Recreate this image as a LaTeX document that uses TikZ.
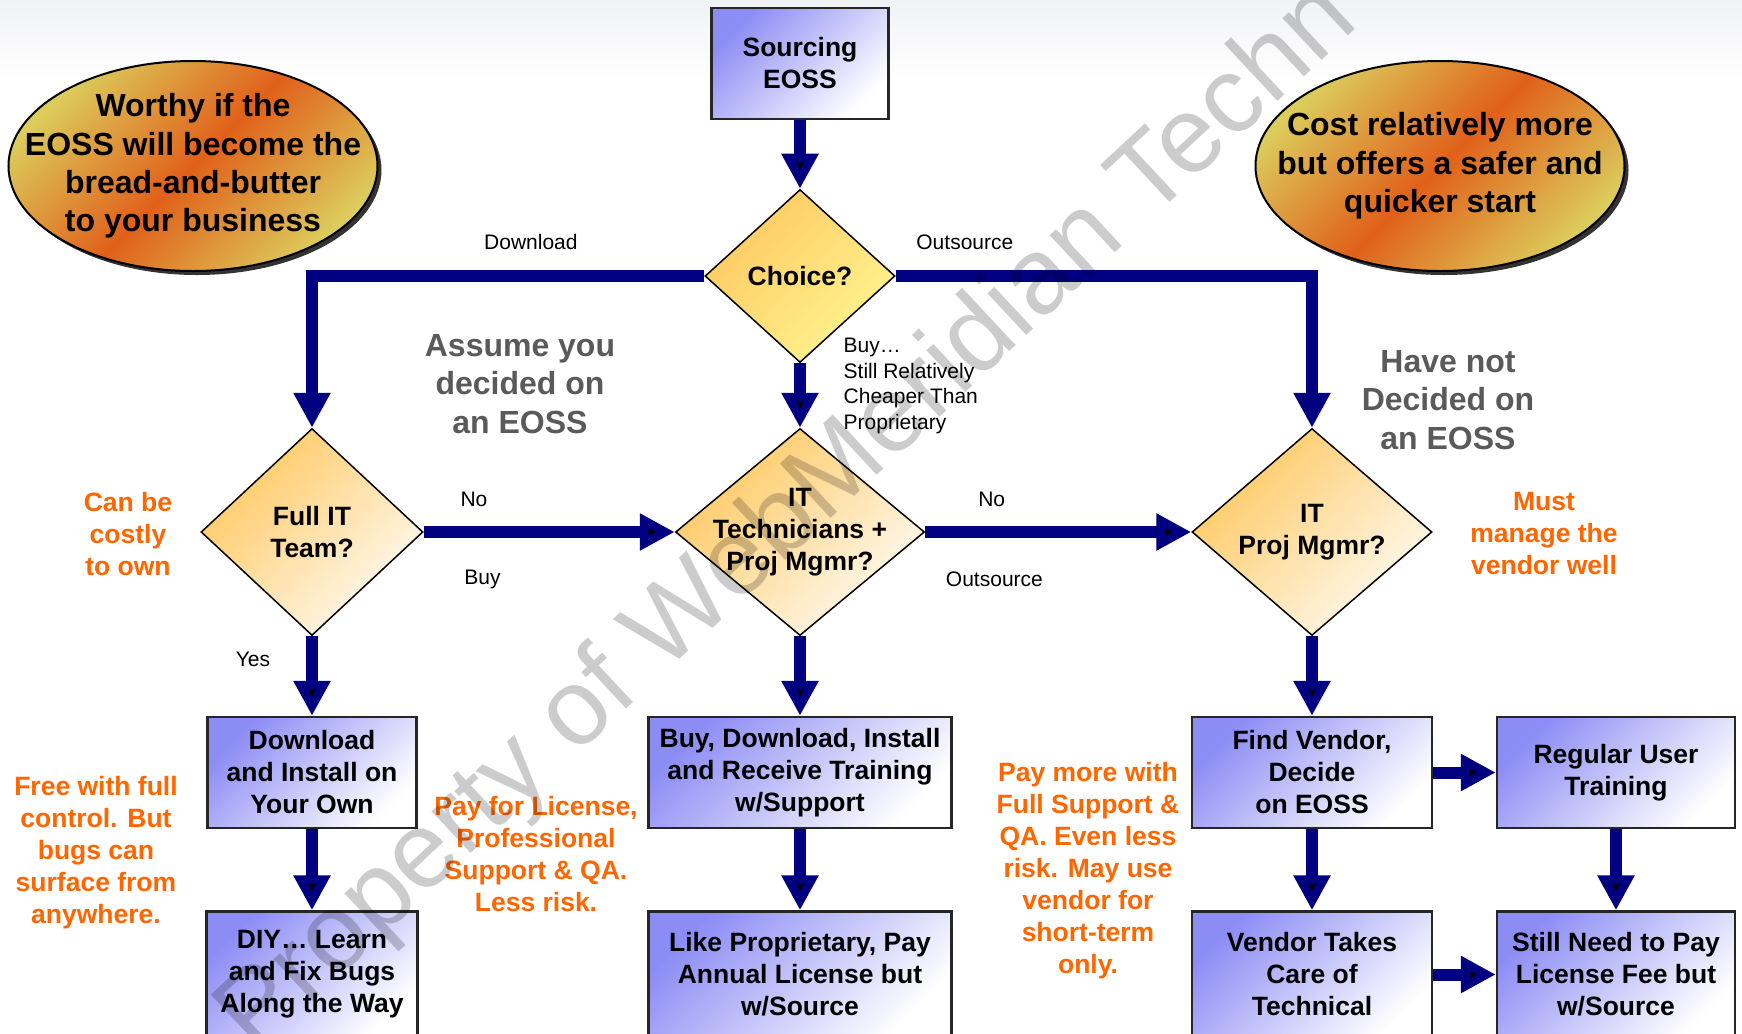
\documentclass[tikz,border=0pt]{standalone}
\usepackage{fontspec}
\setmainfont{Liberation Sans}
\usetikzlibrary{arrows.meta,positioning,shapes.geometric,shadows}

\definecolor{flowblue}{HTML}{000080}
\definecolor{boxblue}{HTML}{8C8CF5}
\definecolor{diaorange}{HTML}{FFC860}
\definecolor{diacream}{HTML}{FFFAF2}
\definecolor{choiceyellow}{HTML}{FFF590}
\definecolor{ovalyellow}{HTML}{DCCC5C}
\definecolor{ovalorange}{HTML}{E0601A}
\definecolor{noteorange}{HTML}{FF6600}
\definecolor{notegray}{HTML}{5A5A5A}
\definecolor{bandgray}{HTML}{F1F2F6}

\begin{document}
\begin{tikzpicture}[x=0.5pt,y=-0.5pt,node distance=100pt,on grid,
  flow/.style={draw=flowblue,line width=6pt,-{Triangle[length=17.5pt,width=17.5pt]}},
  box/.style={draw=black!85,line width=1.2pt,top color=boxblue,bottom color=white,shading angle=45,
    align=center,inner sep=0pt,minimum height=55.5pt,font=\bfseries\fontsize{13.25pt}{16pt}\selectfont},
  lowbox/.style={box,minimum height=63pt},
  dia/.style={diamond,draw=black,line width=0.75pt,inner sep=0pt,top color=diaorange,bottom color=diacream,
    shading angle=45,minimum height=103.5pt},
  choice/.style={dia,bottom color=choiceyellow,shading angle=45},
  diatext/.style={align=center,font=\bfseries\fontsize{13.25pt}{16pt}\selectfont},
  oval/.style={ellipse,draw=black,line width=1pt,minimum width=184.5pt,minimum height=105pt,inner sep=0pt,
    top color=ovalyellow,bottom color=ovalyellow,middle color=ovalorange,shading angle=45,
    drop shadow={shadow xshift=2pt,shadow yshift=-2pt,fill=black!80,opacity=1}},
  ovaltext/.style={align=center,font=\bfseries\fontsize{16pt}{19.2pt}\selectfont},
  tag/.style={font=\fontsize{10.5pt}{12.75pt}\selectfont},
  note/.style={align=center,text=noteorange,font=\bfseries\fontsize{13.25pt}{16pt}\selectfont},
  aside/.style={align=center,text=notegray,font=\bfseries\fontsize{16pt}{19.2pt}\selectfont},
  watermark/.style={text=black,text opacity=0.2,font=\fontsize{54pt}{65pt}\selectfont}]

  \useasboundingbox (0,0) rectangle (1742,1034);
  \shade[top color=bandgray,bottom color=white] (0,0) rectangle (1742,80);

% decisions
  \node[box,minimum width=88.5pt] (src) at (800,63.5) {Sourcing\\EOSS};
  \node[choice,minimum width=95pt,minimum height=86.5pt,
        label={[diatext]center:Choice?}]                      (choice) [below=106.25pt of src] {};
  \node[dia,minimum width=124.5pt,
        label={[diatext]center:IT\\Technicians +\\Proj Mgmr?}] (ittech) [below=128pt of choice] {};
  \node[dia,minimum width=111pt,
        label={[diatext]center:Full IT\\Team?}]                (fullit) [left=244pt of ittech]  {};
  \node[dia,minimum width=120pt,
        label={[diatext]center:IT\\Proj Mgmr?}]                (itproj) [right=256pt of ittech] {};

% outcomes
  \node[box,minimum width=104.5pt] (dlbox)   [below=120.25pt of fullit] {Download\\and Install on\\Your Own};
  \node[box,minimum width=151.5pt] (buybox)  [below=120.25pt of ittech] {Buy, Download, Install\\and Receive Training\\w/Support};
  \node[box,minimum width=120pt]   (findbox) [below=120.25pt of itproj] {Find Vendor,\\Decide\\on EOSS};
  \node[box,minimum width=119pt]   (regbox)  [right=152pt of findbox]   {Regular User\\Training};
  \node[lowbox,minimum width=105.5pt] (diybox)   [below=101pt of dlbox]   {DIY… Learn\\and Fix Bugs\\Along the Way};
  \node[lowbox,minimum width=151.5pt] (likebox)  [below=101pt of buybox]  {Like Proprietary, Pay\\Annual License but\\w/Source};
  \node[lowbox,minimum width=120pt]   (vendbox)  [below=101pt of findbox] {Vendor Takes\\Care of\\Technical};
  \node[lowbox,minimum width=119pt]   (stillbox) [below=101pt of regbox]  {Still Need to Pay\\License Fee but\\w/Source};

% bubbles
  \node[oval,label={[ovaltext]center:Worthy if the\\EOSS will become the\\bread-and-butter\\to your business}] (worthy) at (193,166) {};
  \node[oval,label={[ovaltext]center:Cost relatively more\\but offers a safer and\\quicker start}] (safer) at (1440,166) {};

%    <from> edge node {label} (<to>)
  \path[flow]
    (src)     edge (choice)
    (choice)  edge node[tag,pos=0.35,anchor=west,xshift=15.5pt,align=left]
                     {Buy…\\Still Relatively\\Cheaper Than\\Proprietary} (ittech)
    (fullit)  edge node[tag,pos=0.2,yshift=16.5pt] {No}
                   node[tag,pos=0.234,yshift=-23.5pt] {Buy} (ittech)
    (ittech)  edge node[tag,pos=0.25,yshift=16.5pt] {No}
                   node[tag,pos=0.26,yshift=-23.5pt] {Outsource} (itproj)
    (fullit)  edge node[tag,pos=0.29,xshift=-29.5pt] {Yes} (dlbox)
    (dlbox)   edge (diybox)
    (ittech)  edge (buybox)
    (buybox)  edge (likebox)
    (itproj)  edge (findbox)
    (findbox) edge (vendbox)
    (findbox) edge (regbox)
    (regbox)  edge (stillbox)
    (vendbox) edge (stillbox);
  \draw[flow] (choice.west) -| node[tag,pos=0.221,yshift=17pt] {Download} (fullit.north);
  \draw[flow] (choice.east) -| node[tag,pos=0.083,yshift=17pt] {Outsource} (itproj.north);

% side remarks
  \node[aside] (assume)  at (520,384)  {Assume you\\decided on\\an EOSS};
  \node[aside] (notyet)  at (1448,400) {Have not\\Decided on\\an EOSS};
  \node[note]  (ownnote) at (128,534)  {Can be\\costly\\to own};
  \node[note]  (vendnote) at (1544,534) {Must\\manage the\\vendor well};
  \node[note]  (freenote) at (96,853)  {Free with full\\control. But\\bugs can\\surface from\\anywhere.};
  \node[note]  (paynote) at (536,854)  {Pay for License,\\Professional\\Support \& QA.\\Less risk.};
  \node[note]  (morenote) at (1088,871) {Pay more with\\Full Support \&\\QA. Even less\\risk. May use\\vendor for\\short-term\\only.};

  \node[watermark,rotate=43,anchor=base west] (wm) at (250,1060) {Property of WebMeridian Techn};
\end{tikzpicture}
\end{document}
